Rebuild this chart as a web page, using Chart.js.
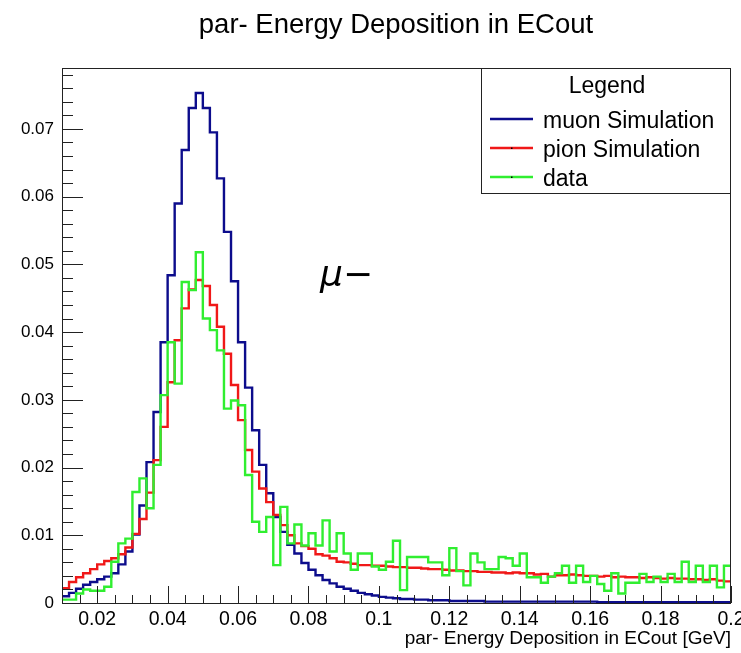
<!DOCTYPE html>
<html><head><meta charset="utf-8">
<script src="https://cdn.jsdelivr.net/npm/chart.js@4.4.1/dist/chart.umd.min.js"></script>
<style>html,body{margin:0;padding:0;background:#fff;overflow:hidden}#wrap{width:741px;height:653px}</style>
</head><body><div id="wrap"><canvas id="c" width="741" height="653"></canvas></div>
<script>
const chartTitle = "par- Energy Deposition in ECout";
const xAxisTitle = "par- Energy Deposition in ECout [GeV]";
const legendTitle = "Legend";
const annotationText = "\u03bc\u2212";
const seriesNames = ["muon Simulation", "pion Simulation", "data"];
const xMin = 0.01, xMax = 0.2, binWidth = 0.002;
const yMin = 0, yMax = 0.079;
const xTickLabels = ["0.02","0.04","0.06","0.08","0.1","0.12","0.14","0.16","0.18","0.2"];
const yTickLabels = ["0","0.01","0.02","0.03","0.04","0.05","0.06","0.07"];
const xMinorStep = 0.005, yMinorStep = 0.002;

const muonSim = [
0.0010,0.0015,0.0021,0.0027,0.0031,0.0035,0.0039,0.0044,0.0057,0.0076,
0.0101,0.0144,0.0208,0.0282,0.0385,0.0484,0.0590,0.0669,0.0731,0.0753,
0.0731,0.0695,0.0627,0.0548,0.0475,0.0385,0.0318,0.0255,0.0204,0.0162,
0.0127,0.0105,0.0086,0.0073,0.0059,0.0049,0.0041,0.0034,0.0029,0.0024,
0.0021,0.0018,0.0015,0.0013,0.0011,0.0009,0.0008,0.0007,0.0006,0.0006,
0.0005,0.0005,0.0004,0.0004,0.0004,0.0003,0.0003,0.0003,0.0003,0.0003,
0.0002,0.0002,0.0002,0.0002,0.0002,0.0002,0.0002,0.0002,0.0002,0.0002,
0.0002,0.0002,0.0002,0.0002,0.0002,0.0002,0.0001,0.0001,0.0001,0.0001,
0.0001,0.0001,0.0001,0.0001,0.0001,0.0001,0.0001,0.0001,0.0001,0.0001,
0.0001,0.0001,0.0001,0.0001,0.0001];
const pionSim = [
0.0022,0.0031,0.0038,0.0044,0.0050,0.0057,0.0062,0.0066,0.0072,0.0082,
0.0102,0.0124,0.0163,0.0211,0.0260,0.0326,0.0388,0.0435,0.0463,0.0477,
0.0468,0.0440,0.0408,0.0368,0.0322,0.0270,0.0226,0.0194,0.0169,0.0149,
0.0130,0.0115,0.0100,0.0088,0.0084,0.0080,0.0072,0.0070,0.0066,0.0061,
0.0060,0.0058,0.0056,0.0056,0.0055,0.0055,0.0054,0.0053,0.0053,0.0052,
0.0052,0.0051,0.0050,0.0050,0.0049,0.0048,0.0048,0.0047,0.0047,0.0046,
0.0046,0.0045,0.0045,0.0044,0.0045,0.0044,0.0044,0.0042,0.0043,0.0039,
0.0041,0.0041,0.0042,0.0041,0.0040,0.0040,0.0039,0.0040,0.0038,0.0039,
0.0038,0.0038,0.0037,0.0038,0.0037,0.0036,0.0037,0.0036,0.0036,0.0035,
0.0035,0.0034,0.0035,0.0033,0.0032];
const dataVals = [
0.0005,0.0005,0.0014,0.0020,0.0018,0.0018,0.0024,0.0061,0.0088,0.0095,
0.0164,0.0184,0.0140,0.0204,0.0307,0.0385,0.0324,0.0474,0.0462,0.0518,
0.0420,0.0403,0.0373,0.0287,0.0299,0.0292,0.0189,0.0120,0.0105,0.0127,
0.0056,0.0142,0.0088,0.0116,0.0085,0.0103,0.0085,0.0122,0.0076,0.0103,
0.0073,0.0049,0.0073,0.0073,0.0054,0.0049,0.0061,0.0092,0.0019,0.0068,
0.0068,0.0068,0.0060,0.0060,0.0041,0.0081,0.0047,0.0026,0.0073,0.0060,
0.0050,0.0050,0.0068,0.0066,0.0055,0.0073,0.0038,0.0038,0.0030,0.0039,
0.0044,0.0055,0.0030,0.0055,0.0031,0.0040,0.0028,0.0018,0.0044,0.0014,
0.0030,0.0030,0.0043,0.0031,0.0039,0.0031,0.0043,0.0031,0.0061,0.0031,
0.0055,0.0031,0.0055,0.0023,0.0055];

const seriesColors = ["#0c0c8c", "#f01818", "#30ee30"];

function histPoints(vals) {
  const pts = vals.map((v, i) => ({ x: xMin + i * binWidth, y: v }));
  pts.push({ x: xMax, y: vals[vals.length - 1] });
  return pts;
}
function tickValues(min, max, step) {
  const out = [];
  const n = Math.round((max - min) / step);
  for (let i = 0; i <= n; i++) out.push(+(min + i * step).toFixed(6));
  return out;
}
function isLabelled(v, labels) {
  return labels.some(l => Math.abs(parseFloat(l) - v) < 1e-7);
}
function labelFor(v, labels) {
  const l = labels.find(s => Math.abs(parseFloat(s) - v) < 1e-7);
  return l === undefined ? '' : l;
}

const rootStyle = {
  id: 'rootStyle',
  afterDraw(chart) {
    const ctx = chart.ctx, a = chart.chartArea;
    const xs = chart.scales.x, ys = chart.scales.y;
    ctx.save();
    ctx.strokeStyle = '#222';
    ctx.lineWidth = 1;
    ctx.strokeRect(Math.round(a.left) + 0.5, Math.round(a.top) + 0.5,
      Math.round(a.right - a.left) - 1, Math.round(a.bottom - a.top));
    ctx.beginPath();
    xs.ticks.forEach(t => {
      const px = Math.round(xs.getPixelForValue(t.value)) + 0.5;
      const len = isLabelled(t.value, xTickLabels) ? 17 : 8;
      ctx.moveTo(px, a.bottom); ctx.lineTo(px, a.bottom - len);
    });
    ys.ticks.forEach(t => {
      const py = Math.round(ys.getPixelForValue(t.value)) + 0.5;
      const len = isLabelled(t.value, yTickLabels) ? 21 : 11;
      ctx.moveTo(a.left, py); ctx.lineTo(a.left + len, py);
    });
    ctx.stroke();
    ctx.fillStyle = '#000';
    ctx.textAlign = 'center';
    ctx.textBaseline = 'alphabetic';
    ctx.font = '27.5px "Liberation Sans", Arial, sans-serif';
    ctx.fillText(chartTitle, 396, 33);
    ctx.textAlign = 'right';
    ctx.font = '19px "Liberation Sans", Arial, sans-serif';
    ctx.fillText(xAxisTitle, a.right, 644);
    const lx = 481, ly = Math.round(a.top), lw = Math.round(a.right) - lx, lh = 125;
    ctx.fillStyle = '#fff';
    ctx.fillRect(lx, ly, lw, lh);
    ctx.strokeStyle = '#222';
    ctx.lineWidth = 1;
    ctx.strokeRect(lx + 0.5, ly + 0.5, lw - 1, lh);
    ctx.fillStyle = '#000';
    ctx.font = '23px "Liberation Sans", Arial, sans-serif';
    ctx.textAlign = 'center';
    ctx.fillText(legendTitle, 607, 93);
    ctx.textAlign = 'left';
    const rows = [128, 157, 186];
    seriesNames.forEach((name, i) => {
      const yy = rows[i] - 9;
      ctx.strokeStyle = seriesColors[i];
      ctx.lineWidth = 2.5;
      ctx.beginPath(); ctx.moveTo(490, yy); ctx.lineTo(533, yy); ctx.stroke();
      if (i > 0) { ctx.fillStyle = '#000'; ctx.fillRect(511, yy - 0.5, 1.5, 1.5); }
      ctx.fillStyle = '#000';
      ctx.fillText(name, 543, rows[i]);
    });
    ctx.font = 'italic 36px "DejaVu Sans", sans-serif';
    ctx.fillText(annotationText, 320, 286);
    ctx.restore();
  }
};

new Chart(document.getElementById('c'), {
  type: 'line',
  data: {
    datasets: [
      { label: seriesNames[0], data: histPoints(muonSim), borderColor: seriesColors[0], order: 3 },
      { label: seriesNames[1], data: histPoints(pionSim), borderColor: seriesColors[1], order: 2 },
      { label: seriesNames[2], data: histPoints(dataVals), borderColor: seriesColors[2], order: 1 }
    ].map(d => Object.assign(d, { stepped: true, borderWidth: 2.4, pointRadius: 0, fill: false, tension: 0 }))
  },
  options: {
    responsive: false,
    animation: false,
    devicePixelRatio: 1,
    layout: { padding: { top: 68, right: 10, left: 0, bottom: 0 } },
    plugins: { legend: { display: false }, tooltip: { enabled: false }, title: { display: false } },
    scales: {
      x: {
        type: 'linear', min: xMin, max: xMax,
        afterBuildTicks: s => { s.ticks = tickValues(xMin + xMinorStep, xMax, xMinorStep).map(v => ({ value: v })); },
        afterFit: s => { s.height = 50; s.paddingLeft = 0; s.paddingRight = 0; },
        ticks: { autoSkip: false, maxRotation: 0, padding: 5, color: '#000',
          font: { size: 19.5, family: '"Liberation Sans", Arial, sans-serif' },
          callback: v => labelFor(v, xTickLabels) },
        grid: { display: false, drawTicks: false }, border: { display: false }
      },
      y: {
        type: 'linear', min: yMin, max: yMax,
        afterBuildTicks: s => { s.ticks = tickValues(yMin, 0.078, yMinorStep).map(v => ({ value: v })); },
        afterFit: s => { s.width = 62; s.paddingTop = 0; s.paddingBottom = 0; },
        ticks: { autoSkip: false, padding: 8, color: '#000',
          font: { size: 17, family: '"Liberation Sans", Arial, sans-serif' },
          callback: v => labelFor(v, yTickLabels) },
        grid: { display: false, drawTicks: false }, border: { display: false }
      }
    }
  },
  plugins: [rootStyle]
});
</script>
</body></html>
